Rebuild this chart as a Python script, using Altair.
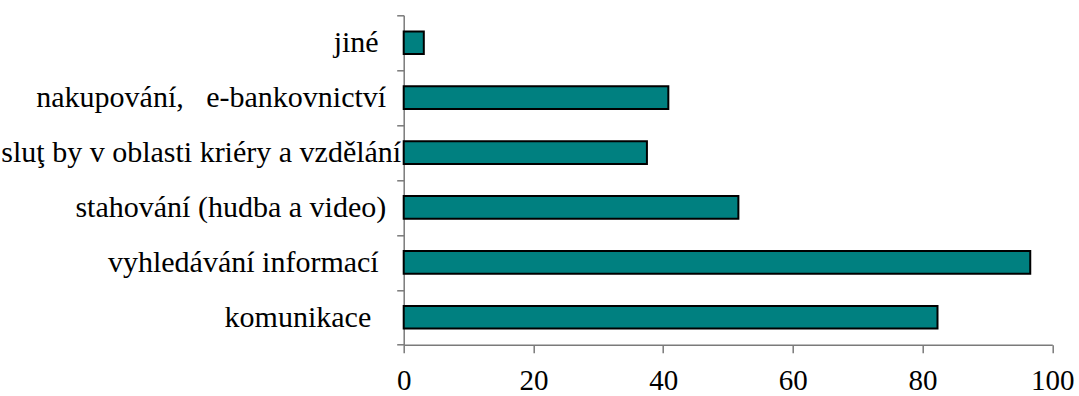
import altair as alt
import pandas as pd

NB = "\u00a0"
ZW = "\u200b"

categories = [
    "jiné",
    "nakupování," + NB * 3 + "e-bankovnictví",
    "sluţ by v oblasti kriéry a vzdělání",
    "stahování (hudba a video)",
    "vyhledávání informací",
    "komunikace",
]
# trailing blanks after each label, as in the original chart's label texts
trailing_blanks = [3, 2, 0, 2, 3, 4]
values = [3.1, 40.8, 37.5, 51.6, 96.6, 82.3]
x_ticks = [0, 20, 40, 60, 80, 100]

labels = [c + (NB * n + ZW if n else "") for c, n in zip(categories, trailing_blanks)]
df = pd.DataFrame({"kategorie": labels, "hodnota": values})

FONT = "Liberation Serif"

chart = (
    alt.Chart(df)
    .mark_bar(color="#008080", stroke="#000000", strokeWidth=2, height={"band": 0.413})
    .encode(
        x=alt.X(
            "hodnota:Q",
            scale=alt.Scale(domain=[0, 100], nice=False),
            axis=alt.Axis(
                values=x_ticks,
                title=None,
                grid=False,
                tickSize=8,
                labelPadding=14,
                labelFontSize=29,
                labelFont=FONT,
                labelColor="#000000",
                domainColor="#7a7a7a",
                tickColor="#7a7a7a",
                domainWidth=1.5,
                tickWidth=1.5,
                labelFlush=False,
            ),
        ),
        y=alt.Y(
            "kategorie:N",
            sort=labels,
            scale=alt.Scale(paddingInner=0, paddingOuter=0),
            axis=alt.Axis(
                title=None,
                grid=False,
                tickSize=7,
                tickBand="extent",
                labelPadding=-4,
                labelFontSize=30,
                labelFont=FONT,
                labelColor="#000000",
                labelLimit=0,
                domainColor="#7a7a7a",
                tickColor="#7a7a7a",
                domainWidth=1.5,
                tickWidth=1.5,
            ),
        ),
    )
    .properties(
        width=648.6,
        height=329.4,
        autosize=alt.AutoSizeParams(type="none"),
        padding={"left": 403.7, "top": 15.3, "right": 26.7, "bottom": 51.3},
        background="white",
    )
    .configure_view(stroke=None)
)

chart.save("out.html", embed_options={"renderer": "svg", "actions": False})
